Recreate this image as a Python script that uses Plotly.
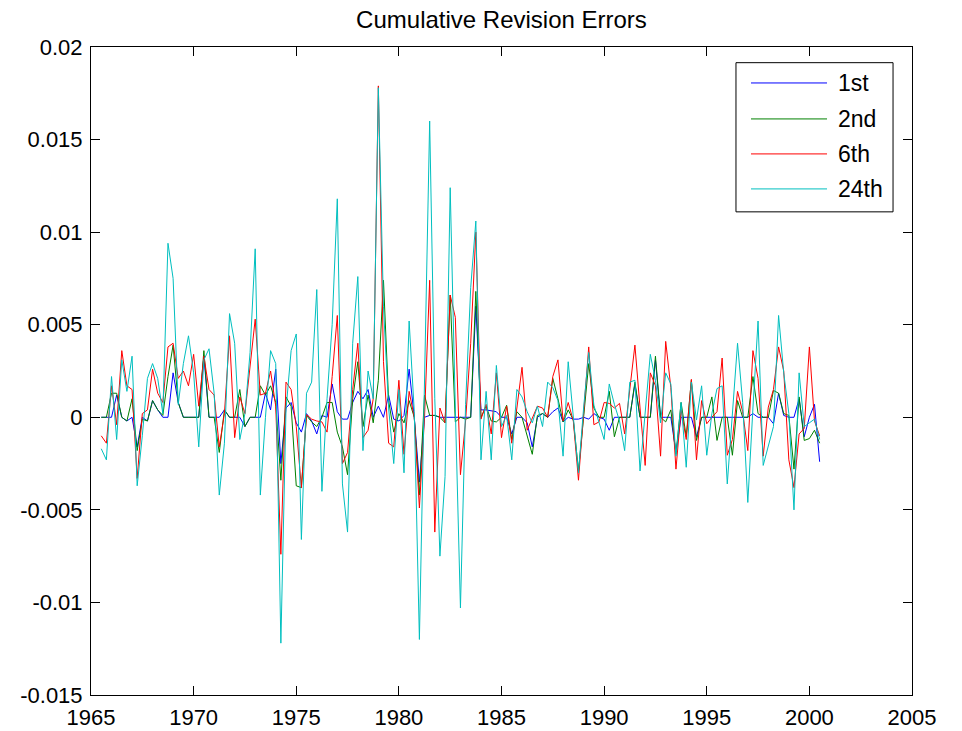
import plotly.graph_objects as go

start_year = 1965.5
series_names = ["1st", "2nd", "6th", "24th"]
series_colors = ["#0000ff", "#008000", "#ff0000", "#00bfbf"]

first = [0, 0, 0, 0.0012, 0, -0.0002, 0, -0.0016, 0, -0.0002,
         0.0009, 0.0004, 0, 0, 0.0024, 0.0008, 0, 0, 0, 0,
         0.0033, 0, 0,
         0, 0.0004, 0, 0, 0, -0.0005, 0, 0, 0, 0.0013,
         0.0004, 0.0026, -0.0025, 0.0005, 0.0008, -0.0003, -0.0008,
         0.0002, -0.0002, -0.0009, 0.0001, 0, 0.0018, 0.0003, -0.0001, -0.0001, 0.0008,
         0.0014, 0.001, 0.0015, 0,
         0.0006, 0, 0.0012, -0.0001, -0.0002, 0.0001, 0.0026, 0, -0.0035, 0,
         0.0001, 0.0001, 0, 0,
         0, 0, 0, 0, 0, 0.006, 0.0004, 0.0004, 0.00035, 0.0003,
         0, 0, -0.0009, 0, 0, -0.0003, -0.0016, 0, 0.0002, 0, 0.0003,
         0.0005, -0.00025, 0, -0.0001, -0.0001, 0, -0.0001, 0.0002, 0, -0.0001,
         -0.0007, 0, 0, 0, 0, 0.0018, 0, 0, 0, 0.0031,
         0, 0, 0, -0.0019,
         0, 0, 0, -0.00105, 0, 0, 0, 0, 0, 0,
         0, 0, 0, 0, 0.0002, 0, 0, 0, -0.00035, 0.0013,
         0.0001, 0, 0, 0.001, -0.00105, 0, 0.0007, -0.0024]

second = [0, 0, 0.0013, 0.0013, 0, -0.0002, 0.001, -0.0018, -0.0001, -0.0002,
          0.0009, 0.0004, 0.0001, 0.0022, 0.0039, 0.0008, 0, 0, 0, 0,
          0.0036, 0, 0,
          -0.0019, 0.0004, 0, 0, 0.0015, -0.0005, 0, 0, 0.0017, 0.0012,
          0.0017, 0.0008, -0.0034, 0.0011, 0.0006, -0.0037, -0.0038,
          0.0001, -0.00025, -0.0005, 0, 0.0008, 0.0008, -0.0008, -0.0016, -0.0031, 0.001,
          0.003, -0.0005, 0.0012, -0.0003,
          0.002, 0.0074, 0.0009, -0.0008, 0.0002, -0.0003, 0.0009, 0, -0.0042, 0.0012,
          0.0001, 0.0001, 0, -0.0003,
          0.0066, -0.00025, 0, -0.0001, 0, 0.0068, 0, 0.0006, -0.0002, -0.00025,
          0, 0.00065, -0.0012, 0.0003, 0, -0.001, -0.002, 0.0001, 0.0002, 0, 0.0021,
          0.001, -0.00025, 0.0004, -0.00015, -0.0029, 0, 0.0029, 0.0005, 0, 0,
          0.0014, -0.00105, 0, 0, 0, 0.0019, 0, 0, 0, 0.0033,
          0, -0.00025, 0.0004, -0.002,
          0.0008, -0.00105, 0.002, -0.00125, 0, 0, 0.0011, -0.00125, 0, 0,
          -0.00205, 0.0009, 0, 0, 0.0022, 0.0002, 0, 0, 0.00145, 0.0013,
          0.0002, 0.0001, -0.0028, 0.0011, -0.00125, -0.00115, -0.0007, -0.0014]

sixth = [-0.001, -0.0014, 0.0017, -0.0004, 0.0036, 0.0017, 0.0015, -0.0033, 0.0002, 0.0004,
         0.0026, 0.0013, 0.0008, 0.0038, 0.004, 0.0021, 0.0025, 0.0017, 0.0034, 0.0006,
         0.0033, 0.0015, 0.0012,
         -0.0016, 0.0002, 0.0044, -0.0011, 0.0011, 0.0002, 0.0028, 0.0053, 0.0012, 0.0013,
         0.0025, 0.0006, -0.0074, 0.0019, 0.0015, -0.0005, -0.0038,
         0.00015, -0.0001, -0.0002, -0.00025, -0.0008, 0.0022, 0.0055, -0.0025, -0.0019, 0.0015,
         0.004, -0.0011, -0.0007, 0.001,
         0.0179, 0.003, -0.0014, -0.0016, 0.002, -0.002, 0.0014, 0, -0.0049, 0,
         0.0074, -0.0062, 0.0005, -0.0003,
         0.0066, 0.0054, -0.0031, -0.0002, 0.004, 0.01, -0.0001, 0.0007, -0.0009, 0.0024,
         -0.0011, 0.0006, -0.0014, 0.0005, 0.0027, -0.0007, 0, 0.0006, 0.0005, 0, 0.0022,
         0.0031, -0.0002, 0.0008, -0.0002, -0.0034, 0.0002, 0.0038, -0.0004, -0.00025, 0.0008,
         0.00075, 0.0005, 0.00075, -0.0009, 0.0015, 0.0039, 0.0005, -0.0026, 0.0024, 0.0017,
         -0.0021, 0.0041, 0.0016, -0.0028,
         0.0004, -0.0012, 0.00205, -0.0023, 0.0009, -0.00035, 0, 0.0003, 0.0032, -0.00205,
         -0.0012, 0.0014, 0.0003, -0.0018, 0.0036, 0.0021, -0.0021, 0.00055, 0.0015, 0.0038,
         0.0025, -0.0023, -0.0038, -0.0009, -0.0006, 0.0038, -0.0002, -0.001]

twentyfourth = [-0.0017, -0.0023, 0.0022, -0.0012, 0.0031, 0.0014, 0.0033, -0.0037, -0.001, 0.0021,
                0.0029, 0.0021, 0.0002, 0.0094, 0.0075, 0.0007, 0.0029, 0.0044, 0.0024, -0.0016,
                0.0031, 0.0037, 0.0013,
                -0.0042, -0.0014, 0.0056, 0.004, -0.0012, 0.0002, 0.0035, 0.0091, -0.0042, 0,
                0.0036, 0.0029, -0.0122, 0.0004, 0.0036, 0.0045, -0.0066,
                0.0013, 0.0019, 0.0069, -0.004, 0.001, 0.005, 0.0118, -0.0036, -0.0062, 0.004,
                0.0076, -0.0018, 0.0025, 0.001,
                0.0178, 0.006, 0.0005, -0.0025, 0.0015, -0.003, 0.0052, 0.0003, -0.012, 0.0011,
                0.016, 0.001, -0.0075, -0.0032,
                0.0124, 0.0005, -0.0103, 0.0007, 0.007, 0.0106, -0.0023, 0.0014, -0.0023, 0.0028,
                -0.0005, 0.0001, -0.0023, 0.0015, 0.0011, 0.0003, -0.0003, 0.0006, -0.0005, 0.0019, 0.0016,
                0.0009, -0.0021, 0.003, -0.0002, -0.003, 0.0005, 0.0035, 0.00065, -0.0003, -0.0012,
                0.0018, 0.0007, -0.0002, -0.0018, 0.0019, 0.002, -0.0029, 0.0003, 0.0034, 0.002,
                -0.0003, 0.0024, 0.0018, -0.0021,
                0.0008, -0.0027, 0.0019, -0.00015, 0.0017, -0.00205, 0.0002, 0.00155, 0.0017, -0.0036,
                0.0003, 0.004, 0.0008, -0.0046, 0.0005, 0.0052, -0.0026, -0.0015, -0.0005, 0.0055,
                0.0024, 0.0002, -0.005, 0.0024, -0.0005, -0.0003, -0.0001, -0.0012]

x_ticks = [1965, 1970, 1975, 1980, 1985, 1990, 1995, 2000, 2005]
y_ticks = [-0.015, -0.01, -0.005, 0, 0.005, 0.01, 0.015, 0.02]
y_tick_text = ["-0.015", "-0.01", "-0.005", "0", "0.005", "0.01", "0.015", "0.02"]

all_series = [first, second, sixth, twentyfourth]
n = len(first)
years = [start_year + i / 4 for i in range(n)]

FONT = "Liberation Sans, Arial, Helvetica, sans-serif"

fig = go.Figure()
for name, col, vals in zip(series_names, series_colors, all_series):
    fig.add_trace(go.Scatter(x=years, y=vals, mode="lines", name=name,
                             line=dict(color=col, width=1), showlegend=False))

axis_common = dict(showgrid=False, zeroline=False, showline=True, linecolor="black",
                   linewidth=1, mirror="allticks", ticks="inside", ticklen=9,
                   tickcolor="black", tickwidth=1, automargin=False,
                   tickfont=dict(family=FONT, size=22, color="black"))
fig.update_xaxes(range=[1965, 2005], tickvals=x_ticks,
                 ticktext=[str(t) for t in x_ticks], ticklabelstandoff=3,
                 **axis_common)
fig.update_yaxes(range=[-0.015, 0.02], tickvals=y_ticks, ticktext=y_tick_text,
                 ticklabelstandoff=3, **axis_common)

# legend box drawn manually to match the MATLAB style
L, R, T, B = 0.7856, 0.9769, 0.9758, 0.7456
fig.add_shape(type="rect", xref="paper", yref="paper", x0=L, x1=R, y0=B, y1=T,
              line=dict(color="black", width=1), fillcolor="white", layer="above")
row_y = [0.9445, 0.8890, 0.8350, 0.7810]
for name, col, yy in zip(series_names, series_colors, row_y):
    fig.add_shape(type="line", xref="paper", yref="paper", x0=0.8039, x1=0.8965,
                  y0=yy, y1=yy, line=dict(color=col, width=1), layer="above")
    fig.add_annotation(x=0.9074, y=yy, xref="paper", yref="paper", text=name,
                       showarrow=False, xanchor="left", yanchor="middle",
                       font=dict(family=FONT, size=23, color="black"))

fig.update_layout(
    width=962, height=731,
    margin=dict(l=91, r=50, t=47, b=36),
    paper_bgcolor="white", plot_bgcolor="white",
    title=dict(text="Cumulative Revision Errors", x=0.5, xref="paper",
               y=1 - 20 / 731, yref="container", xanchor="center", yanchor="middle",
               font=dict(family=FONT, size=24, color="black")),
)

fig.write_html("out.html")
